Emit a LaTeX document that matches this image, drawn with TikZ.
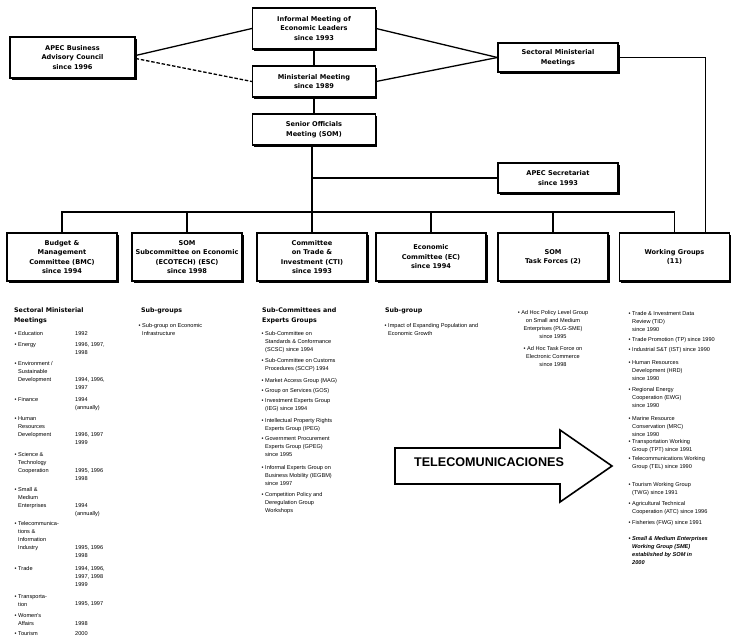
\documentclass[tikz,border=0pt]{standalone}
\usepackage{fontspec}
\setmainfont{Liberation Serif}
\newfontfamily\lsans{Liberation Sans}
\newfontfamily\dvs{DejaVu Sans}
\usetikzlibrary{shadows,calc}
\newcommand\bitem[4]{\node[lst] (#1) at (#2,#3) {\llap{\textbullet\hspace{1.6pt}}#4};}
\newcommand\ditem[4]{\node[lst] (#1) at (#2,#3) {#4};}
\begin{document}
\begin{tikzpicture}[x=1pt,y=-1pt,
  box/.style={draw, line width=1.2pt, fill=white, align=center, inner sep=1pt,
    font=\dvs\bfseries\fontsize{6.6}{9.5}\selectfont,
    drop shadow={shadow xshift=1.6pt, shadow yshift=-1.6pt, opacity=1, fill=black}},
  lbox/.style={box, minimum width=110pt, minimum height=48pt},
  conn/.style={line width=1.3pt},
  lst/.style={anchor=north west, inner sep=0pt, align=left, font=\lsans\fontsize{5.6}{8}\selectfont},
  hd/.style={anchor=north west, inner sep=0pt, align=left, font=\dvs\bfseries\fontsize{6.3}{9.5}\selectfont},
  slst/.style={anchor=north, inner sep=0pt, align=center, font=\lsans\fontsize{5.6}{8}\selectfont},
]
\useasboundingbox (0,0) rectangle (749,639);

% top boxes
\node[box, minimum width=123pt, minimum height=41pt] (leaders) at (314,28.5) {Informal Meeting of\\Economic Leaders\\since 1993};
\node[box, minimum width=123pt, minimum height=31pt] (minist) at (314,81.5) {Ministerial Meeting\\since 1989};
\node[box, minimum width=123pt, minimum height=31pt] (som) at (314,129.5) {Senior Officials\\Meeting (SOM)};
\node[box, minimum width=125pt, minimum height=41pt] (abac) at (72.5,57.5) {APEC Business\\Advisory Council\\since 1996};
\node[box, minimum width=120pt, minimum height=29pt] (smm) at (558,57.5) {Sectoral Ministerial\\Meetings};
\node[box, minimum width=120pt, minimum height=30pt] (secr) at (558,178) {APEC Secretariat\\since 1993};

% second row
\node[lbox] (bmc) at (62,257) {Budget \&\\Management\\Committee (BMC)\\since 1994};
\node[lbox] (esc) at (187,257) {SOM\\Subcommittee on Economic\\(ECOTECH) (ESC)\\since 1998};
\node[lbox] (cti) at (312,257) {Committee\\on Trade \&\\Investment (CTI)\\since 1993};
\node[lbox] (ec) at (431,257) {Economic\\Committee (EC)\\since 1994};
\node[lbox] (tf) at (553,257) {SOM\\Task Forces (2)};
\node[lbox] (wg) at (674.5,257) {Working Groups\\(11)};

% connectors
\coordinate (bus) at (312,212);
\coordinate (a1) at ($(abac.east)+(0,-2)$);
\coordinate (a2) at ($(abac.east)+(0,1)$);
\coordinate (wgt) at ($(wg.north)+(31,0)$);
\draw[conn] (leaders) -- (minist);
\draw[conn] (minist) -- (som);
\draw[conn] (som.south -| cti.north) -- (cti.north);
\draw[conn] (a1) -- (leaders.west);
\draw[conn, dash pattern=on 3.5pt off 1.8pt] (a2) -- (minist.west);
\draw[conn] (leaders.east) -- (smm.west);
\draw[conn] (minist.east) -- (smm.west);
\draw[conn] (smm.east) -- (smm.east -| wgt) -- (wgt);
\draw[conn] (secr.west) -- (secr.west -| cti.north);
\draw[conn] (bmc.north) -- (bmc.north |- bus) -- (wg.north |- bus) -- (wg.north);
\foreach \n in {esc,ec,tf} \draw[conn] (\n.north) -- (\n.north |- bus);

% arrow
\draw[line width=1.6pt, fill=white] (395,448) -- (560,448) -- (560,430) -- (612,466) -- (560,502) -- (560,484) -- (395,484) -- cycle;
\node[font=\lsans\bfseries\fontsize{12.6}{13}\selectfont, inner sep=0pt] (tel) at (489,462) {TELECOMUNICACIONES};

% Sectoral ministerial meetings list
\node[hd] (h1) at (14,308) {Sectoral Ministerial\\Meetings};
\bitem{s1}{18}{331}{Education}
\bitem{s2}{18}{342}{Energy}
\bitem{s3}{18}{361}{Environment /\\Sustainable\\Development}
\bitem{s4}{18}{397}{Finance}
\bitem{s5}{18}{416}{Human\\Resources\\Development}
\bitem{s6}{18}{452}{Science \&\\Technology\\Cooperation}
\bitem{s7}{18}{487}{Small \&\\Medium\\Enterprises}
\bitem{s8}{18}{521}{Telecommunica-\\tions \&\\Information\\Industry}
\bitem{s9}{18}{566}{Trade}
\bitem{s10}{18}{594}{Transporta-\\tion}
\bitem{s11}{18}{613}{Women's\\Affairs}
\bitem{s12}{18}{631}{Tourism}
\ditem{d1}{75}{331}{1992}
\ditem{d2}{75}{342}{1996, 1997,\\1998}
\ditem{d3}{75}{377}{1994, 1996,\\1997}
\ditem{d4}{75}{397}{1994\\(annually)}
\ditem{d5}{75}{432}{1996, 1997\\1999}
\ditem{d6}{75}{468}{1995, 1996\\1998}
\ditem{d7}{75}{503}{1994\\(annually)}
\ditem{d8}{75}{545}{1995, 1996\\1998}
\ditem{d9}{75}{566}{1994, 1996,\\1997, 1998\\1999}
\ditem{d10}{75}{601}{1995, 1997}
\ditem{d11}{75}{621}{1998}
\ditem{d12}{75}{631}{2000}

% ESC sub-groups
\node[hd] (h2) at (141,308) {Sub-groups};
\bitem{e1}{142}{323}{Sub-group on Economic\\Infrastructure}

% CTI
\node[hd] (h3) at (262,308) {Sub-Committees and\\Experts Groups};
\bitem{c1}{265}{331}{Sub-Committee on\\Standards \& Conformance\\(SCSC) since 1994}
\bitem{c2}{265}{358}{Sub-Committee on Customs\\Procedures (SCCP) 1994}
\bitem{c3}{265}{378}{Market Access Group (MAG)}
\bitem{c4}{265}{388}{Group on Services (GOS)}
\bitem{c5}{265}{398}{Investment Experts Group\\(IEG) since 1994}
\bitem{c6}{265}{418}{Intellectual Property Rights\\Experts Group (IPEG)}
\bitem{c7}{265}{436}{Government Procurement\\Experts Group (GPEG)\\since 1995}
\bitem{c8}{265}{465}{Informal Experts Group on\\Business Mobility (IEGBM)\\since 1997}
\bitem{c9}{265}{492}{Competition Policy and\\Deregulation Group\\Workshops}

% EC
\node[hd] (h4) at (385,308) {Sub-group};
\bitem{x1}{388}{323}{Impact of Expanding Population and\\Economic Growth}

% SOM task forces
\node[slst] (t1) at (553,310) {\textbullet\ Ad Hoc Policy Level Group\\on Small and Medium\\Enterprises (PLG-SME)\\since 1995};
\node[slst] (t2) at (553,346) {\textbullet\ Ad Hoc Task Force on\\Electronic Commerce\\since 1998};

% Working groups
\bitem{w1}{632}{311}{Trade \& Investment Data\\Review (TID)\\since 1990}
\bitem{w2}{632}{337}{Trade Promotion (TP) since 1990}
\bitem{w3}{632}{347}{Industrial S\&T (IST) since 1990}
\bitem{w4}{632}{360}{Human Resources\\Development (HRD)\\since 1990}
\bitem{w5}{632}{387}{Regional Energy\\Cooperation (EWG)\\since 1990}
\bitem{w6}{632}{416}{Marine Resource\\Conservation (MRC)\\since 1990}
\bitem{w7}{632}{439}{Transportation Working\\Group (TPT) since 1991}
\bitem{w8}{632}{456}{Telecommunications Working\\Group (TEL) since 1990}
\bitem{w9}{632}{482}{Tourism Working Group\\(TWG) since 1991}
\bitem{w10}{632}{501}{Agricultural Technical\\Cooperation (ATC) since 1996}
\bitem{w11}{632}{520}{Fisheries (FWG) since 1991}
\node[lst, font=\lsans\bfseries\itshape\fontsize{5.6}{8}\selectfont] (w12) at (632,536) {\llap{\textbullet\hspace{1.6pt}}Small \& Medium Enterprises\\Working Group (SME)\\established by SOM in\\2000};
\end{tikzpicture}
\end{document}
